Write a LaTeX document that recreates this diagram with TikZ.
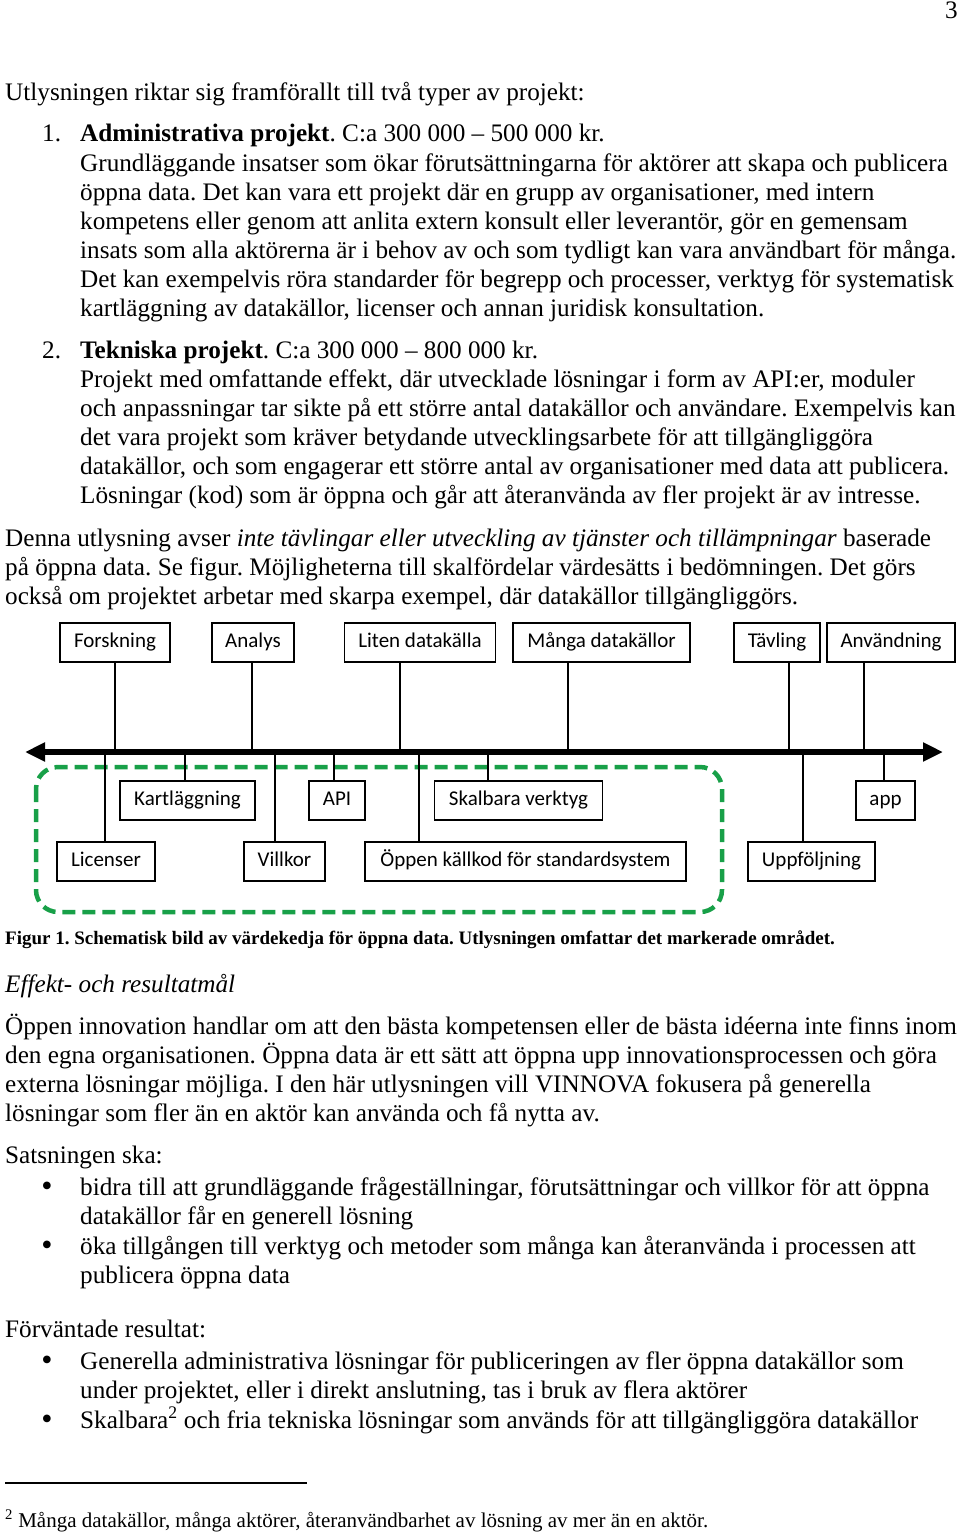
\documentclass[tikz,border=0pt]{standalone}
\usepackage{fontspec}
\setmainfont{Liberation Serif}
\newfontfamily\boxfont{Carlito}
\usetikzlibrary{arrows.meta}

\definecolor{markgreen}{RGB}{24,160,72}
\frenchspacing

\begin{document}
\begin{tikzpicture}[x=1pt,y=-1pt,
	txt/.style={anchor=base west,inner sep=0pt,font=\fontsize{25.2}{29}\selectfont},
	small/.style={anchor=base west,inner sep=0pt,font=\fontsize{21}{24}\selectfont},
	dot/.style={anchor=base,inner sep=0pt,font=\fontsize{32}{32}\selectfont},
	lbl/.style={draw,fill=white,line width=1.5pt,inner sep=0pt,minimum height=39pt,text height=14pt,text depth=4pt,font=\boxfont\fontsize{21}{24}\selectfont},
	conn/.style={line width=2pt}]
		\useasboundingbox (0,0) rectangle (960,1535);
		\node[txt,anchor=base east] (page) at (958,18) {3};
		\node[txt] (intro) at (5,100) {Utlysningen riktar sig framförallt till två typer av projekt:};
		% punkt 1
		\node[txt] (n-1) at (42,141) {1.};
		\node[txt] (h-1) at (80,141) {\textbf{Administrativa projekt}. C:a 300 000 – 500 000 kr.};
		\foreach \x[count=\xi] in {{Grundläggande insatser som ökar förutsättningarna för aktörer att skapa och publicera},
			{öppna data. Det kan vara ett projekt där en grupp av organisationer, med intern},
			{kompetens eller genom att anlita extern konsult eller leverantör, gör en gemensam},
			{insats som alla aktörerna är i behov av och som tydligt kan vara användbart för många.},
			{Det kan exempelvis röra standarder för begrepp och processer, verktyg för systematisk},
			{kartläggning av datakällor, licenser och annan juridisk konsultation.}}{
			\node[txt] (a-\xi) at (80,142+29*\xi) {\x};
		}
		% punkt 2
		\node[txt] (n-2) at (42,358) {2.};
		\node[txt] (h-2) at (80,358) {\textbf{Tekniska projekt}. C:a 300 000 – 800 000 kr.};
		\foreach \x[count=\xi] in {{Projekt med omfattande effekt, där utvecklade lösningar i form av API:er, moduler},
			{och anpassningar tar sikte på ett större antal datakällor och användare. Exempelvis kan},
			{det vara projekt som kräver betydande utvecklingsarbete för att tillgängliggöra},
			{datakällor, och som engagerar ett större antal av organisationer med data att publicera.},
			{Lösningar (kod) som är öppna och går att återanvända av fler projekt är av intresse.}}{
			\node[txt] (b-\xi) at (80,358+29*\xi) {\x};
		}
		\foreach \x[count=\xi] in {{Denna utlysning avser \textit{inte tävlingar eller utveckling av tjänster och tillämpningar} baserade},
			{på öppna data. Se figur. Möjligheterna till skalfördelar värdesätts i bedömningen. Det görs},
			{också om projektet arbetar med skarpa exempel, där datakällor tillgängliggörs.}}{
			\node[txt] (c-\xi) at (5,517+29*\xi) {\x};
		}
		% figur
		\draw[markgreen,line width=4.5pt,dash pattern=on 13pt off 7pt,rounded corners=22pt] (36,767) rectangle (722,912);
		\coordinate (axl) at (25,752);
		\coordinate (axr) at (943,752);
		\node[lbl,minimum width=110pt] (forskning) at (115,642.5) {Forskning};
		\node[lbl,minimum width=82pt] (analys) at (253,642.5) {Analys};
		\node[lbl,minimum width=151pt] (liten) at (420,642.5) {Liten datakälla};
		\node[lbl,minimum width=177pt] (manga) at (601.5,642.5) {Många datakällor};
		\node[lbl,minimum width=86pt] (tavling) at (777,642.5) {Tävling};
		\node[lbl,minimum width=128pt] (anvandning) at (891,642.5) {Användning};
		\node[lbl,minimum width=135pt] (kartl) at (187.5,800.5) {Kartläggning};
		\node[lbl,minimum width=56pt] (api) at (337,800.5) {API};
		\node[lbl,minimum width=168pt] (skalbara) at (518.5,800.5) {Skalbara verktyg};
		\node[lbl,minimum width=59pt] (app) at (885.5,800.5) {app};
		\node[lbl,minimum width=98pt] (licenser) at (106,861.5) {Licenser};
		\node[lbl,minimum width=81pt] (villkor) at (284.5,861.5) {Villkor};
		\node[lbl,minimum width=321pt] (oppen) at (525.5,861.5) {Öppen källkod för standardsystem};
		\node[lbl,minimum width=127pt] (uppf) at (811.5,861.5) {Uppföljning};
		% linjer upp till axeln
		\foreach \n/\p[count=\xi] in {forskning/115,analys/252,liten/400,manga/568,tavling/789,anvandning/864}{
			\coordinate (p-\xi) at (\p,752);
			\draw[conn] (p-\xi) -- (p-\xi |- \n.south);
		}
		% linjer ner från axeln
		\foreach \n/\p[count=\xi] in {kartl/185,api/334,skalbara/488,app/884,licenser/105,villkor/275,oppen/419,uppf/803}{
			\coordinate (q-\xi) at (\p,752);
			\draw[conn] (q-\xi) -- (q-\xi |- \n.north);
		}
		\draw[line width=6pt,{Triangle[length=20pt,width=18pt]}-{Triangle[length=20pt,width=18pt]}] (axl) -- (axr);
		\node[small,font=\bfseries\fontsize{19}{22}\selectfont] (caption) at (5,944) {Figur 1. Schematisk bild av värdekedja för öppna data. Utlysningen omfattar det markerade området.};
		\node[txt,font=\itshape\fontsize{25.2}{30}\selectfont] (rubrik) at (5,992) {Effekt- och resultatmål};
		\foreach \x[count=\xi] in {{Öppen innovation handlar om att den bästa kompetensen eller de bästa idéerna inte finns inom},
			{den egna organisationen. Öppna data är ett sätt att öppna upp innovationsprocessen och göra},
			{externa lösningar möjliga. I den här utlysningen vill VINNOVA fokusera på generella},
			{lösningar som fler än en aktör kan använda och få nytta av.}}{
			\node[txt] (d-\xi) at (5,1005+29*\xi) {\x};
		}
		\node[txt] (ska) at (5,1163) {Satsningen ska:};
		\foreach \y/\x[count=\xi] in {1195/{bidra till att grundläggande frågeställningar, förutsättningar och villkor för att öppna},
			1224/{datakällor får en generell lösning},
			1254/{öka tillgången till verktyg och metoder som många kan återanvända i processen att},
			1283/{publicera öppna data}}{
			\node[txt] (e-\xi) at (80,\y) {\x};
		}
		\node[dot] (dot-1) at (47,1196) {•};
		\node[dot] (dot-2) at (47,1255) {•};
		\node[txt] (res) at (5,1337) {Förväntade resultat:};
		\foreach \y/\x[count=\xi] in {1369/{Generella administrativa lösningar för publiceringen av fler öppna datakällor som},
			1398/{under projektet, eller i direkt anslutning, tas i bruk av flera aktörer},
			1428/{Skalbara\textsuperscript{2} och fria tekniska lösningar som används för att tillgängliggöra datakällor}}{
			\node[txt] (f-\xi) at (80,\y) {\x};
		}
		\node[dot] (dot-3) at (47,1370) {•};
		\node[dot] (dot-4) at (47,1429) {•};
		% fotnot
		\coordinate (fn-l) at (5,1483);
		\coordinate (fn-r) at (307,1483);
		\draw[line width=1.2pt] (fn-l) -- (fn-r);
		\node[small] (fn) at (5,1527) {\textsuperscript{2} Många datakällor, många aktörer, återanvändbarhet av lösning av mer än en aktör.};
\end{tikzpicture}
\end{document}
